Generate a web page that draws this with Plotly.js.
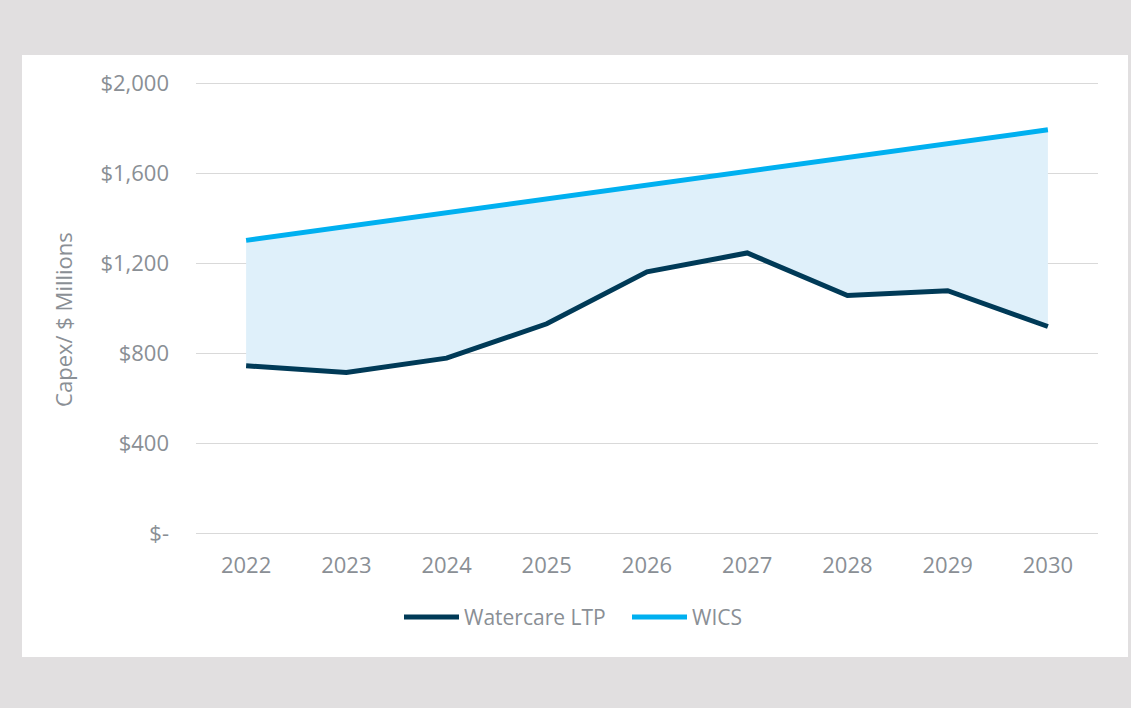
<!DOCTYPE html>
<html>
<head>
<meta charset="utf-8">
<script src="https://cdn.plot.ly/plotly-3.0.1.min.js"></script>
<style>
  html, body { margin: 0; padding: 0; background: #e1dfe0; width: 1131px; height: 708px; overflow: hidden; }
  #panel { position: absolute; left: 22px; top: 55px; width: 1106px; height: 602px; background: #ffffff; }
  #chart { width: 1106px; height: 602px; }
</style>
</head>
<body>
<div id="panel"><div id="chart"></div></div>
<script>
const years = ['2022','2023','2024','2025','2026','2027','2028','2029','2030'];
const watercareLTP = [745, 715, 779, 932, 1163, 1247, 1058, 1079, 920];
const wics = [1303, 1365, 1426, 1488, 1549, 1611, 1672, 1734, 1795];
const yTickVals = [0, 400, 800, 1200, 1600, 2000];
const yTickText = ['$-', '$400', '$800', '$1,200', '$1,600', '$2,000'];

const font = 'Open Sans, sans-serif';
const grey = '#8a8f95';

const traces = [
  { x: years, y: watercareLTP, type: 'scatter', mode: 'lines', line: {width: 0, color: 'rgba(0,0,0,0)'}, showlegend: false, hoverinfo: 'skip' },
  { x: years, y: wics, type: 'scatter', mode: 'lines', fill: 'tonexty', fillcolor: '#dff0fa', line: {width: 0, color: 'rgba(0,0,0,0)'}, showlegend: false, hoverinfo: 'skip' },
  { x: years, y: watercareLTP, name: 'Watercare LTP', type: 'scatter', mode: 'lines', line: {width: 5, color: '#003a57'}, legend: 'legend' },
  { x: years, y: wics, name: 'WICS', type: 'scatter', mode: 'lines', line: {width: 5, color: '#00b0f0'}, legend: 'legend2' }
];

const pxPerUnit = 449.5 / 2000;
const pad = 12;
const legendCommon = {
  orientation: 'h', traceorder: 'normal', xanchor: 'left', y: -0.179, yanchor: 'middle',
  font: {family: font, size: 21, color: grey}, bgcolor: 'rgba(0,0,0,0)', borderwidth: 0,
  itemwidth: 55
};
const layout = {
  width: 1106, height: 602,
  margin: {l: 174, r: 30, t: 29 - pad * pxPerUnit, b: 123.5 - pad * pxPerUnit, pad: 0},
  paper_bgcolor: '#ffffff', plot_bgcolor: '#ffffff',
  font: {family: font, color: grey, size: 22},
  xaxis: {
    type: 'category', range: [-0.5, 8.5],
    showgrid: false, zeroline: false, showline: false,
    ticks: '', ticklabelstandoff: 14,
    tickfont: {family: font, size: 22, color: grey}
  },
  yaxis: {
    range: [-pad, 2000 + pad], tickvals: yTickVals, ticktext: yTickText,
    showgrid: true, gridcolor: '#d9d9d9', gridwidth: 1.5,
    zeroline: false, showline: false, ticks: '', ticklabelstandoff: 26,
    tickfont: {family: font, size: 22, color: grey}
  },
  legend: Object.assign({}, legendCommon, {x: (407 - 196 - 8) / 902}),
  legend2: Object.assign({}, legendCommon, {x: (635 - 196 - 8) / 902}),
  annotations: [{
    text: 'Capex/ $ Millions', xref: 'paper', yref: 'paper',
    x: -133/902, y: 0.475, xanchor: 'center', yanchor: 'middle',
    textangle: -90, showarrow: false,
    font: {family: font, size: 22, color: grey}
  }],
  showlegend: true
};

Plotly.newPlot('chart', traces, layout, {displayModeBar: false, staticPlot: true});
</script>
</body>
</html>
